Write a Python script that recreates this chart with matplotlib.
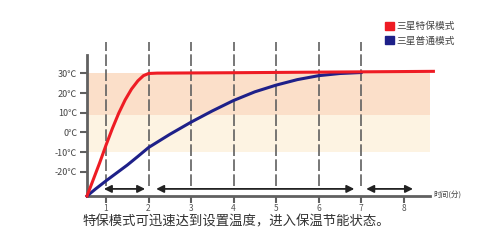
import matplotlib.pyplot as plt
from matplotlib.patches import Patch

plt.rcParams['font.family'] = ['Noto Sans CJK SC', 'DejaVu Sans']

# curves (time in min, temperature in C)
red_t = [0.553, 0.70, 0.85, 1.0, 1.15, 1.3, 1.45, 1.6, 1.75, 1.88, 2.0, 2.2, 4.0, 6.0, 8.7]
red_T = [-32.3, -24.0, -15.5, -6.5, 2.0, 9.8, 16.5, 22.0, 26.2, 28.8, 29.9, 30.1, 30.3, 30.6, 31.0]

blue_t = [0.553, 0.75, 1.0, 1.25, 1.5, 1.75, 2.0, 2.5, 3.0, 3.5, 4.0, 4.5, 5.0, 5.5, 6.0, 6.5, 7.0]
blue_T = [-32.3, -28.8, -24.6, -20.6, -16.6, -12.2, -7.7, -1.0, 5.2, 10.9, 16.2, 20.6, 24.0, 26.8, 28.8, 29.9, 30.4]

ytick_vals = [30, 20, 10, 0, -10, -20]
ytick_labels = ['30℃', '20℃', '10℃', '0℃', '-10℃', '-20℃']
xtick_vals = [1, 2, 3, 4, 5, 6, 7, 8]
guide_t = [1, 2, 3, 4, 5, 6, 7]
arrows = [(0.95, 1.92), (2.18, 6.84), (7.12, 8.22)]

RED = '#ee1c24'
BLUE = '#1e2089'
GRAY = '#606060'

fig = plt.figure(figsize=(5, 2.5), dpi=100)
ax = fig.add_axes([0.174, 0.216, 0.686, 0.564])
ax.set_xlim(0.553, 8.62)
ax.set_ylim(-32.3, 39.3)

# background bands
ax.axhspan(9, 30, color='#fbdfc9', lw=0, zorder=0)
ax.axhspan(-10, 9, color='#fdf3e2', lw=0, zorder=0)

# guide lines
ax.vlines(guide_t, -27.2, 45.9, colors=GRAY, lw=1.2, linestyles=(0, (7, 2)),
          clip_on=False, zorder=1)

ax.plot(blue_t, blue_T, color=BLUE, lw=2.2, zorder=3, clip_on=False,
        solid_joinstyle='round')
ax.plot(red_t, red_T, color=RED, lw=2.2, zorder=4, clip_on=False,
        solid_joinstyle='round')

for a, b in arrows:
    ax.annotate('', xy=(b, -28.7), xytext=(a, -28.7),
                arrowprops=dict(arrowstyle='<|-|>', color='#222222', lw=1.3,
                                mutation_scale=11, shrinkA=0, shrinkB=0))

for s in ['top', 'right']:
    ax.spines[s].set_visible(False)
for s in ['left', 'bottom']:
    ax.spines[s].set_color(GRAY)
    ax.spines[s].set_linewidth(2)

ax.set_yticks(ytick_vals)
ax.set_yticklabels(ytick_labels)
ax.set_xticks(xtick_vals)
ax.set_xticklabels([str(v) for v in xtick_vals])
ax.tick_params(axis='y', length=5, width=1.5, color=GRAY, labelsize=6.5,
               labelcolor='#444444', pad=2)
ax.tick_params(axis='x', length=5, width=1.5, color=GRAY, labelsize=6,
               labelcolor='#555555', pad=1)

fig.text(0.866, 0.22, '时间(分)', fontsize=5.5, color='#444444', va='center')
fig.text(0.166, 0.114, '特保模式可迅速达到设置温度，进入保温节能状态。',
         fontsize=9.6, color='#333333', va='center')

handles = [Patch(color=RED, label='三星特保模式'), Patch(color=BLUE, label='三星普通模式')]
fig.legend(handles=handles, loc='upper left', bbox_to_anchor=(0.752, 0.95),
           frameon=False, fontsize=7, handlelength=0.9, handleheight=0.9,
           handletextpad=0.3, labelspacing=0.45, labelcolor='#444444')

fig.savefig('out.png')
